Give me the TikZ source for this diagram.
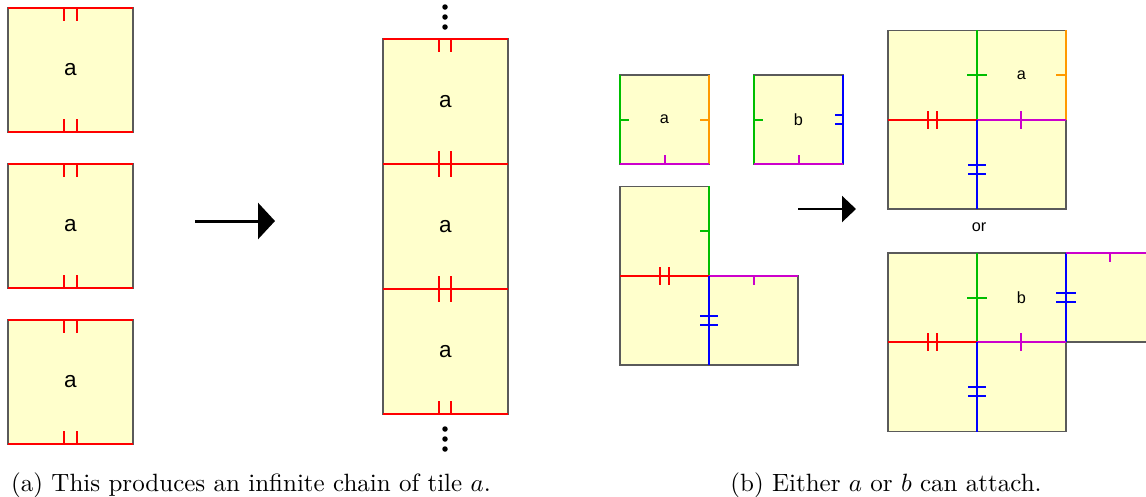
\documentclass[tikz,border=0pt]{standalone}
\usepackage{fontspec}
\newfontfamily\tilefont{Liberation Sans}
\usepackage{xcolor}
\usetikzlibrary{arrows.meta}
\definecolor{tileyellow}{RGB}{255,255,204}
\definecolor{tileborder}{RGB}{90,90,90}
\definecolor{gluered}{RGB}{255,0,0}
\definecolor{gluegreen}{RGB}{0,190,0}
\definecolor{glueorange}{RGB}{255,153,0}
\definecolor{gluemagenta}{RGB}{204,0,204}
\definecolor{glueblue}{RGB}{0,0,255}

\begin{document}
\begin{tikzpicture}[x=0.4pt, y=-0.4pt,
  bigtile/.style={rectangle, draw=tileborder, fill=tileyellow, line width=0.45pt,
                  minimum size=50pt, inner sep=0pt, font=\tilefont\small},
  smalltile/.style={bigtile, minimum size=35.6pt, font=\tilefont\fontsize{6.5}{8}\selectfont},
  bigglue/.style={line width=1pt},
  smallglue/.style={line width=0.8pt},
  bigarr/.style={-{Triangle[length=6.8pt, width=14.4pt]}, line width=1.2pt},
  smallarr/.style={-{Triangle[length=5.6pt, width=10.4pt]}, line width=0.9pt}
]
\path[use as bounding box] (0,0) rectangle (1146,496);
\clip (0,0) rectangle (1146,496);

% (a) three single tiles
\node[bigtile] (a1) at (70.5,70)  {a};
\node[bigtile] (a2) at (70.5,226) {a};
\node[bigtile] (a3) at (70.5,382) {a};
\draw[bigglue, gluered] (8,8) -- (133,8) (64,8) -- (64,21) (77,8) -- (77,21);
\draw[bigglue, gluered] (8,132) -- (133,132) (64,132) -- (64,119) (77,132) -- (77,119);
\draw[bigglue, gluered] (8,164) -- (133,164) (64,164) -- (64,177) (77,164) -- (77,177);
\draw[bigglue, gluered] (8,288) -- (133,288) (64,288) -- (64,275) (77,288) -- (77,275);
\draw[bigglue, gluered] (8,320) -- (133,320) (64,320) -- (64,333) (77,320) -- (77,333);
\draw[bigglue, gluered] (8,444) -- (133,444) (64,444) -- (64,431) (77,444) -- (77,431);

\coordinate (arrA0) at (195,221);
\coordinate (arrA1) at (275,221);
\draw[bigarr] (arrA0) -- (arrA1);

% the chain
\node[bigtile] (c1) at (445.5,101.5) {a};
\node[bigtile] (c2) at (445.5,226.5) {a};
\node[bigtile] (c3) at (445.5,351.5) {a};
\draw[bigglue, gluered] (383,39) -- (508,39) (439,39) -- (439,52) (451,39) -- (451,52);
\draw[bigglue, gluered] (383,164) -- (508,164) (439,151) -- (439,177) (451,151) -- (451,177);
\draw[bigglue, gluered] (383,289) -- (508,289) (439,276) -- (439,302) (451,276) -- (451,302);
\draw[bigglue, gluered] (383,414) -- (508,414) (439,414) -- (439,401) (451,414) -- (451,401);
\fill (445,7) circle (1.1pt) (445,17) circle (1.1pt) (445,27) circle (1.1pt);
\fill (445,429) circle (1.1pt) (445,439) circle (1.1pt) (445,449) circle (1.1pt);

% (b) tiles a and b
\node[smalltile] (ta) at (664.5,119.5) {a};
\node[smalltile] (tb) at (798.5,119.5) {b};
\draw[smallglue, gluegreen] (620,75) -- (620,164) (620,119.5) -- ++(9,0);
\draw[smallglue, glueorange] (709,75) -- (709,164) (709,119.5) -- ++(-9,0);
\draw[smallglue, gluemagenta] (620,164) -- (709,164) (664.5,164) -- ++(0,-9);
\draw[smallglue, gluegreen] (754,75) -- (754,164) (754,119.5) -- ++(9,0);
\draw[smallglue, glueblue] (843,75) -- (843,164) (843,115) -- ++(-8,0) (843,124) -- ++(-8,0);
\draw[smallglue, gluemagenta] (754,164) -- (843,164) (798.5,164) -- ++(0,-9);

% L shaped assembly
\node[smalltile] (l1) at (664.5,231) {};
\node[smalltile] (l2) at (664.5,320.5) {};
\node[smalltile] (l3) at (753.5,320.5) {};
\draw[smallglue, gluegreen] (709,186) -- (709,276) (709,231) -- ++(-9,0);
\draw[smallglue, gluered] (620,276) -- (709,276) (660,267) -- (660,285) (669,267) -- (669,285);
\draw[smallglue, gluemagenta] (709,276) -- (798,276) (754,276) -- ++(0,9);
\draw[smallglue, glueblue] (709,276) -- (709,365) (700,316) -- (718,316) (700,325) -- (718,325);

\coordinate (arrB0) at (798,209);
\coordinate (arrB1) at (856,209);
\draw[smallarr] (arrB0) -- (arrB1);

% result with a
\node[smalltile] (r1) at (932.5,75)    {};
\node[smalltile] (r2) at (1021.5,75)   {a};
\node[smalltile] (r3) at (932.5,164.5) {};
\node[smalltile] (r4) at (1021.5,164.5){};
\draw[smallglue, gluegreen] (977,30) -- (977,120) (967,75) -- (987,75);
\draw[smallglue, glueorange] (1066,30) -- (1066,120) (1066,75) -- ++(-10,0);
\draw[smallglue, gluered] (888,120) -- (977,120) (928,111) -- (928,129) (937,111) -- (937,129);
\draw[smallglue, gluemagenta] (977,120) -- (1066,120) (1021,111) -- (1021,129);
\draw[smallglue, glueblue] (977,120) -- (977,209) (968,165) -- (986,165) (968,174) -- (986,174);

\node[font=\tilefont\fontsize{6.5}{8}\selectfont] (or) at (979,227) {or};

% result with b
\node[smalltile] (s1) at (932.5,297.5) {};
\node[smalltile] (s2) at (1021.5,297.5){b};
\node[smalltile] (s3) at (932.5,387)   {};
\node[smalltile] (s4) at (1021.5,387)  {};
\node[smalltile] (s5) at (1110.5,297.5){};
\draw[smallglue, gluegreen] (977,253) -- (977,342) (967,298) -- (987,298);
\draw[smallglue, glueblue] (1066,253) -- (1066,342) (1056,293) -- (1076,293) (1056,302) -- (1076,302);
\draw[smallglue, gluemagenta] (1066,253) -- (1155,253) (1110,253) -- ++(0,9);
\draw[smallglue, gluered] (888,342) -- (977,342) (928,333) -- (928,351) (937,333) -- (937,351);
\draw[smallglue, gluemagenta] (977,342) -- (1066,342) (1021,333) -- (1021,351);
\draw[smallglue, glueblue] (977,342) -- (977,432) (968,387) -- (986,387) (968,396) -- (986,396);

% captions
\node (capA) at (251,485) {(a) This produces an infinite chain of tile $a$.};
\node (capB) at (886,485) {(b) Either $a$ or $b$ can attach.};
\end{tikzpicture}
\end{document}
